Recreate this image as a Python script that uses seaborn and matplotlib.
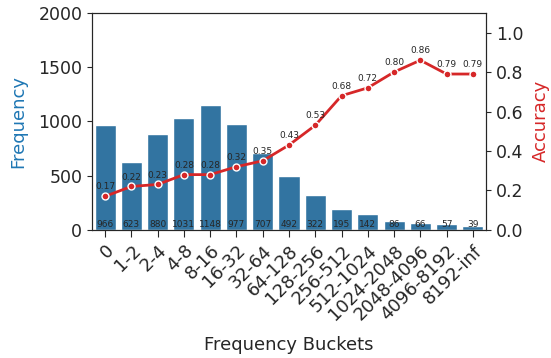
import matplotlib
matplotlib.use("Agg")
import matplotlib.pyplot as plt
import seaborn as sns
import pandas as pd

buckets = ["0", "1-2", "2-4", "4-8", "8-16", "16-32", "32-64", "64-128", "128-256",
           "256-512", "512-1024", "1024-2048", "2048-4096", "4096-8192", "8192-inf"]
frequency = [966, 623, 880, 1031, 1148, 977, 707, 492, 322, 195, 142, 86, 66, 57, 39]
accuracy = [0.17, 0.22, 0.23, 0.28, 0.28, 0.32, 0.35, 0.43, 0.53, 0.68, 0.72, 0.80, 0.86, 0.79, 0.79]

df = pd.DataFrame({"bucket": buckets, "freq": frequency, "acc": accuracy})

sns.set_style("ticks")
plt.rcParams['font.family'] = ['DejaVu Sans']

fig, ax = plt.subplots(figsize=(5.51, 3.58), dpi=100)
fig.subplots_adjust(left=0.167, right=0.882, top=0.964, bottom=0.358)

sns.barplot(data=df, x="bucket", y="freq", color="#1f77b4", ax=ax)
ax.set_ylim(0, 2000)
ax.set_ylabel("Frequency", color="#1f77b4", fontsize=13, labelpad=8)
ax.set_xlabel("Frequency Buckets", fontsize=13, labelpad=9)
ax.tick_params(axis="y", labelsize=12.5)
ax.tick_params(axis="x", labelsize=13, length=5)
ax.set_xticks(range(len(buckets)))
ax.set_xticklabels(buckets, rotation=45, ha="right", rotation_mode="anchor")
for i, v in enumerate(frequency):
    ax.text(i, 5, str(v), ha="center", va="bottom", fontsize=6.5)

ax2 = ax.twinx()
sns.lineplot(x=list(range(len(buckets))), y=accuracy, ax=ax2, color="#d62728",
             linewidth=2, marker="o", markersize=5, markeredgecolor="white",
             markeredgewidth=1)
ax2.set_ylim(0, 1.1)
ax2.set_ylabel("Accuracy", color="#d62728", fontsize=13, labelpad=6)
ax2.tick_params(axis="y", labelsize=12.5)
for i, v in enumerate(accuracy):
    ax2.text(i, v + 0.025, f"{v:.2f}", ha="center", va="bottom", fontsize=6.5)
ax.set_xlim(-0.5, len(buckets) - 0.5)

fig.savefig("out.png", dpi=100)
